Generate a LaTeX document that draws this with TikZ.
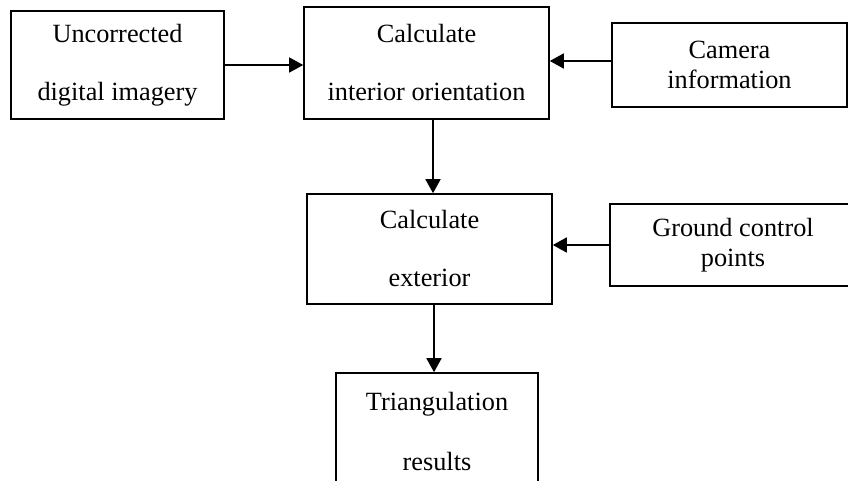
\documentclass[tikz,border=0pt]{standalone}
\usepackage{fontspec}
\setmainfont{Liberation Serif}
\usetikzlibrary{arrows.meta}
\tikzset{
    box/.style={draw, line width=1.6pt, align=center, inner sep=0pt, font=\fontsize{26.3}{30}\selectfont},
    arr/.style={line width=1.6pt, -{Triangle[length=14pt,width=15pt]}}
}
\begin{document}
\begin{tikzpicture}[x=1pt,y=-1pt]
        \useasboundingbox (0,0) rectangle (848,481);
        \node[box, minimum width=213pt, minimum height=108pt] (uncorr) at (117.5,65) {Uncorrected\\[28pt]digital imagery};
        \node[box, minimum width=245pt, minimum height=112pt] (interior) at (426.5,63) {Calculate\\[28pt]interior orientation};
        \node[box, minimum width=235pt, minimum height=84pt] (camera) at (729.5,65) {Camera\\information};
        \node[box, minimum width=245pt, minimum height=110pt] (exterior) at (429.5,249) {Calculate\\[28pt]exterior};
        \node[box, minimum width=246pt, minimum height=82pt] (gcp) at (733,245) {Ground control\\points};
        \node[box, minimum width=202pt, minimum height=118pt] (results) at (437,432) {Triangulation\\[30pt]results};
        \draw[arr] (uncorr.east) -- (uncorr.east -| interior.west);
        \draw[arr] ([yshift=4pt]camera.west) -- ([yshift=4pt]camera.west -| interior.east);
        \draw[arr] ([xshift=6.5pt]interior.south) -- ([xshift=6.5pt]interior.south |- exterior.north);
        \draw[arr] (gcp.west) -- (gcp.west -| exterior.east);
        \draw[arr] ([xshift=4.5pt]exterior.south) -- ([xshift=4.5pt]exterior.south |- results.north);
    \end{tikzpicture}
\end{document}
